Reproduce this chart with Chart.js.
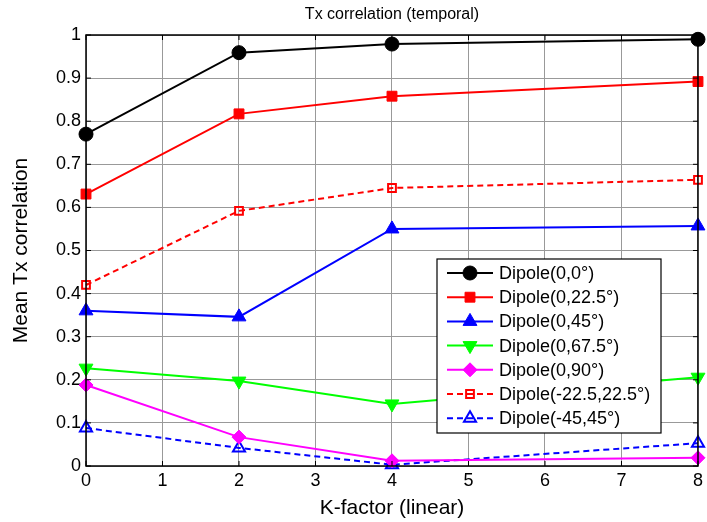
<!DOCTYPE html>
<html>
<head>
<meta charset="utf-8">
<script src="https://cdn.jsdelivr.net/npm/chart.js@4"></script>
<style>
  body { margin: 0; background: #fff; }
  canvas { display: block; }
</style>
</head>
<body>
<canvas id="mycanvas" width="707" height="522"></canvas>
<script>
// K-factor values on the x axis
var kFactor = [0, 2, 4, 8];

// mean Tx correlation, one array per antenna configuration
var dipole_0_0 = [0.770, 0.959, 0.979, 0.990];
var dipole_0_225 = [0.631, 0.817, 0.858, 0.892];
var dipole_0_45 = [0.360, 0.346, 0.550, 0.557];
var dipole_0_675 = [0.227, 0.197, 0.144, 0.206];
var dipole_0_90 = [0.188, 0.067, 0.012, 0.019];
var dipole_225_225 = [0.420, 0.592, 0.645, 0.664];
var dipole_45_45 = [0.088, 0.042, 0.003, 0.053];

var seriesLabels = ['Dipole(0,0°)', 'Dipole(0,22.5°)', 'Dipole(0,45°)', 'Dipole(0,67.5°)',
                    'Dipole(0,90°)', 'Dipole(-22.5,22.5°)', 'Dipole(-45,45°)'];

var chartTitle = 'Tx correlation (temporal)';
var xTitle = 'K-factor (linear)';
var yTitle = 'Mean Tx correlation';

var FONT = '"Liberation Sans", Arial, sans-serif';

function pts(vals) {
    var out = [];
    for (var i = 0; i < kFactor.length; i++) out.push({x: kFactor[i], y: vals[i]});
    return out;
}

function ds(label, vals, color, style, radius, rot, filled, dashed) {
    return {
        label: label,
        data: pts(vals),
        borderColor: color,
        backgroundColor: filled ? color : '#ffffff',
        pointBackgroundColor: filled ? color : 'rgba(0,0,0,0)',
        pointBorderColor: color,
        pointBorderWidth: filled ? 1 : 2,
        pointStyle: style,
        pointRadius: radius,
        pointRotation: rot,
        borderWidth: 2,
        borderDash: dashed ? [6, 4] : [],
        tension: 0,
        clip: false
    };
}

var datasets = [
    ds(seriesLabels[0], dipole_0_0, '#000000', 'circle', 7, 0, true, false),
    ds(seriesLabels[1], dipole_0_225, '#ff0000', 'rect', 7, 0, true, false),
    ds(seriesLabels[2], dipole_0_45, '#0000ff', 'triangle', 8, 0, true, false),
    ds(seriesLabels[3], dipole_0_675, '#00ff00', 'triangle', 8, 180, true, false),
    ds(seriesLabels[4], dipole_0_90, '#ff00ff', 'rectRot', 7, 0, true, false),
    ds(seriesLabels[5], dipole_225_225, '#ff0000', 'rect', 5.5, 0, false, true),
    ds(seriesLabels[6], dipole_45_45, '#0000ff', 'triangle', 7, 0, false, true)
];

// matlab style frame, inner ticks, title and boxed legend
var matlabLook = {
    id: 'matlabLook',
    afterDraw: function (chart) {
        var c = chart.ctx, a = chart.chartArea;
        var xs = chart.scales.x, ys = chart.scales.y;
        c.save();
        c.strokeStyle = '#000';
        c.lineWidth = 1.5;
        c.strokeRect(a.left, a.top, a.right - a.left, a.bottom - a.top);
        c.lineWidth = 1;
        c.beginPath();
        xs.ticks.forEach(function (t) {
            var px = xs.getPixelForValue(t.value);
            c.moveTo(px, a.bottom); c.lineTo(px, a.bottom - 5);
            c.moveTo(px, a.top); c.lineTo(px, a.top + 5);
        });
        ys.ticks.forEach(function (t) {
            var py = ys.getPixelForValue(t.value);
            c.moveTo(a.left, py); c.lineTo(a.left + 5, py);
            c.moveTo(a.right, py); c.lineTo(a.right - 5, py);
        });
        c.stroke();

        // title
        c.fillStyle = '#000';
        c.font = '16px ' + FONT;
        c.textAlign = 'center';
        c.textBaseline = 'middle';
        c.fillText(chartTitle, (a.left + a.right) / 2, 15);

        // legend
        var lx = 437, ly = 259, lw = 224, lh = 174, row = 24.2;
        c.fillStyle = '#fff';
        c.fillRect(lx, ly, lw, lh);
        c.strokeStyle = '#000';
        c.lineWidth = 1.2;
        c.strokeRect(lx, ly, lw, lh);
        chart.data.datasets.forEach(function (d, i) {
            var y = ly + 14 + i * row;
            c.strokeStyle = d.borderColor;
            c.lineWidth = 2;
            c.setLineDash(d.borderDash);
            c.beginPath();
            c.moveTo(447, y); c.lineTo(493, y);
            c.stroke();
            c.setLineDash([]);
            c.fillStyle = d.pointBackgroundColor;
            c.strokeStyle = d.pointBorderColor;
            c.lineWidth = d.pointBorderWidth;
            Chart.helpers.drawPoint(c, {
                pointStyle: d.pointStyle,
                rotation: d.pointRotation,
                radius: d.pointRadius,
                borderWidth: d.pointBorderWidth
            }, 470, y);
            c.fillStyle = '#000';
            c.font = '18px ' + FONT;
            c.textAlign = 'left';
            c.fillText(d.label, 499, y + 1);
        });
        c.restore();
    }
};

var ctx = document.getElementById('mycanvas');
var lineGraph = new Chart(ctx, {
    type: 'line',
    data: { datasets: datasets },
    options: {
        responsive: false,
        animation: false,
        layout: { padding: { top: 35, right: 2, left: 0, bottom: 0 } },
        plugins: {
            legend: { display: false },
            title: { display: false },
            tooltip: { enabled: false }
        },
        scales: {
            x: {
                type: 'linear',
                min: 0, max: 8,
                afterFit: function (s) { s.height = 56; },
                ticks: { stepSize: 1, color: '#000', font: { family: FONT, size: 18 }, padding: 4 },
                grid: { color: '#999999', drawTicks: false, lineWidth: 1 },
                border: { display: false },
                title: { display: true, text: xTitle, color: '#000', font: { family: FONT, size: 21 }, padding: { top: 0, bottom: 1 } }
            },
            y: {
                type: 'linear',
                min: 0, max: 1,
                afterFit: function (s) { s.width = 86; },
                ticks: {
                    stepSize: 0.1, color: '#000', font: { family: FONT, size: 18 }, padding: 5,
                    callback: function (v) { return String(Number(v.toFixed(1))); }
                },
                grid: { color: '#999999', drawTicks: false, lineWidth: 1 },
                border: { display: false },
                title: { display: true, text: yTitle, color: '#000', font: { family: FONT, size: 21 }, padding: { top: 9, bottom: 0 } }
            }
        }
    },
    plugins: [matlabLook]
});
</script>
</body>
</html>
